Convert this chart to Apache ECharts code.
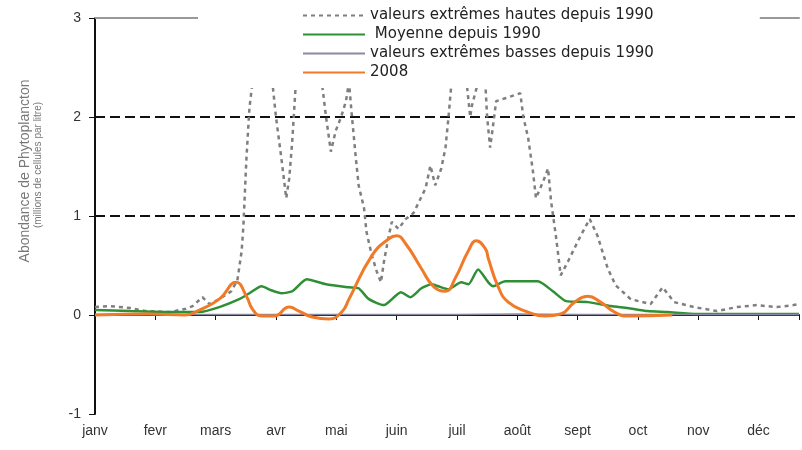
<!DOCTYPE html>
<html>
<head>
<meta charset="utf-8">
<script src="https://cdn.jsdelivr.net/npm/echarts@6/dist/echarts.min.js"></script>
<style>html,body{margin:0;padding:0;background:#fff}#c{width:802px;height:450px}</style>
</head>
<body>
<div id="c"></div>
<script>
// Months (x axis ticks)
var mois = ['janv','fevr','mars','avr','mai','juin','juil','août','sept','oct','nov','déc'];
var yTicks = [-1, 0, 1, 2, 3];

// x positions are in months since 1 January
var hautX = [0,0.25,0.58,0.83,1.24,1.49,1.62,1.78,1.90,2.06,2.26,2.36,2.43,2.46,2.51,2.56,2.61,2.77,2.94,3.0,3.09,3.17,3.22,3.27,3.33,3.55,3.76,3.83,3.91,3.99,4.08,4.16,4.21,4.26,4.32,4.37,4.46,4.5,4.59,4.67,4.74,4.79,4.87,4.92,5.03,5.15,5.28,5.48,5.56,5.64,5.74,5.81,5.86,5.91,6.02,6.16,6.22,6.25,6.35,6.47,6.5,6.55,6.6,6.65,6.8,7.05,7.1,7.18,7.26,7.31,7.43,7.51,7.56,7.64,7.72,7.84,7.92,8.05,8.2,8.33,8.5,8.63,8.88,9.21,9.41,9.6,9.93,10.31,10.64,10.97,11.3,11.58,11.67];
var hautY = [0.08,0.09,0.07,0.04,0.03,0.06,0.09,0.18,0.11,0.16,0.24,0.35,0.64,0.9,1.58,2.09,2.35,2.45,2.35,2.0,1.58,1.18,1.38,1.76,2.35,2.45,2.35,2.0,1.65,1.86,2.0,2.16,2.35,2.0,1.61,1.31,1.08,0.84,0.6,0.44,0.33,0.54,0.8,0.94,0.87,0.97,1.03,1.28,1.51,1.31,1.48,1.69,2.0,2.35,2.45,2.35,2.0,2.12,2.35,2.35,2.0,1.69,1.92,2.16,2.19,2.24,2.0,1.79,1.45,1.18,1.35,1.48,1.15,0.8,0.4,0.54,0.64,0.8,0.97,0.8,0.47,0.3,0.16,0.11,0.28,0.13,0.08,0.04,0.08,0.1,0.08,0.1,0.11];

var moyX = [0,0.58,1.24,1.73,2.06,2.39,2.56,2.76,2.92,3.09,3.27,3.51,3.83,4.21,4.37,4.54,4.79,5.07,5.23,5.41,5.58,5.69,5.86,6.07,6.19,6.35,6.52,6.6,6.8,7.34,7.59,7.81,8.17,8.55,8.83,9.16,9.49,9.98,11.67];
var moyY = [0.05,0.04,0.03,0.03,0.08,0.16,0.22,0.29,0.25,0.22,0.24,0.36,0.31,0.28,0.27,0.16,0.1,0.23,0.18,0.27,0.31,0.29,0.26,0.33,0.31,0.46,0.33,0.29,0.34,0.34,0.24,0.14,0.13,0.09,0.07,0.04,0.03,0.01,0.01];

var basX = [0,1,2,3,4,5,6,7,8,9,10,11,11.67];
var basY = [0.005,0.005,0.005,0.005,0.005,0.005,0.005,0.01,0.005,0.005,0.005,0.005,0.005];

var an2008X = [0,0.91,1.49,1.73,2.06,2.34,2.51,2.61,2.76,2.97,3.22,3.38,3.6,3.88,4.09,4.21,4.59,4.87,5.0,5.15,5.41,5.61,5.81,5.97,6.19,6.32,6.47,6.52,6.68,6.85,7.18,7.46,7.72,7.95,8.17,8.38,8.61,8.83,9.57];
var an2008Y = [0.0,0.01,0.0,0.05,0.16,0.33,0.19,0.06,-0.01,-0.01,0.08,0.04,-0.02,-0.04,0.03,0.16,0.6,0.77,0.8,0.72,0.47,0.29,0.24,0.37,0.65,0.75,0.67,0.57,0.29,0.13,0.03,-0.01,0.01,0.13,0.19,0.13,0.03,-0.01,0.0];

var noms = ['valeurs extrêmes hautes depuis 1990', ' Moyenne depuis 1990', 'valeurs extrêmes basses depuis 1990', '2008'];

function zip(xs, ys) { return xs.map(function (x, i) { return [x, ys[i]]; }); }

var xMax = 11.67;
var chart = echarts.init(document.getElementById('c'), null, { renderer: 'canvas' });
chart.setOption({
  animation: false,
  backgroundColor: '#fff',
  textStyle: { fontFamily: 'Liberation Sans, Arial, sans-serif' },
  grid: { left: 95, right: 0, top: 18, bottom: 36 },
  legend: {
    data: noms,
    orient: 'vertical',
    left: 198,
    top: 0,
    padding: [8, 106, 8, 104],
    itemWidth: 62,
    itemHeight: 14,
    itemGap: 4,
    backgroundColor: '#fff',
    itemStyle: { opacity: 0, borderWidth: 0 },
    textStyle: { fontSize: 15, color: '#222', fontFamily: 'DejaVu Sans, sans-serif' }
  },
  xAxis: [{
    type: 'value', min: 0, max: xMax, interval: 1,
    axisLine: { show: true, lineStyle: { color: '#111', width: 2 } },
    axisTick: { show: true, length: 5, lineStyle: { color: '#111', width: 1 } },
    axisLabel: {
      fontSize: 14, color: '#333', margin: 10,
      formatter: function (v) { return (Math.abs(v - Math.round(v)) < 1e-6 && mois[Math.round(v)]) ? mois[Math.round(v)] : ''; }
    },
    splitLine: { show: false }
  }, {
    type: 'value', min: 0, max: xMax, position: 'top',
    axisLine: { show: true, lineStyle: { color: '#999', width: 2 } },
    axisTick: { show: false }, axisLabel: { show: false }, splitLine: { show: false }
  }],
  yAxis: {
    type: 'value', min: yTicks[0], max: yTicks[yTicks.length - 1], interval: 1,
    axisLine: { show: true, onZero: false, lineStyle: { color: '#111', width: 2 } },
    axisTick: { show: true, length: 6, lineStyle: { color: '#111', width: 1 } },
    axisLabel: { fontSize: 14, color: '#333', margin: 14 },
    splitLine: {
      show: true, showMinLine: true, showMaxLine: true,
      lineStyle: { color: ['rgba(0,0,0,0)', 'rgba(0,0,0,0)', '#111', '#111', 'rgba(0,0,0,0)'], type: [10, 5], width: 2 }
    }
  },
  graphic: [
    { type: 'text', x: 25, y: 171, rotation: Math.PI / 2, style: { text: 'Abondance de Phytoplancton', fill: '#777', font: '14px "Liberation Sans", Arial, sans-serif', align: 'center', verticalAlign: 'middle' } },
    { type: 'text', x: 38, y: 165, rotation: Math.PI / 2, style: { text: '(millions de cellules par litre)', fill: '#777', font: '10px "Liberation Sans", Arial, sans-serif', align: 'center', verticalAlign: 'middle' } }
  ],
  series: [
    { name: noms[0], type: 'line', symbol: 'none', data: zip(hautX, hautY),
      lineStyle: { color: '#7f7f7f', width: 2.5, type: [4, 4] }, itemStyle: { color: '#7f7f7f' } },
    { name: noms[1], type: 'line', symbol: 'none', data: zip(moyX, moyY), smooth: 0.2,
      lineStyle: { color: '#2f8f35', width: 2.5 }, itemStyle: { color: '#2f8f35' } },
    { name: noms[2], type: 'line', symbol: 'none', data: zip(basX, basY),
      lineStyle: { color: '#8a8aa0', width: 1.5 }, itemStyle: { color: '#8a8aa0' } },
    { name: noms[3], type: 'line', symbol: 'none', data: zip(an2008X, an2008Y), smooth: 0.5,
      lineStyle: { color: '#f07a28', width: 3 }, itemStyle: { color: '#f07a28' } }
  ]
});
</script>
</body>
</html>
